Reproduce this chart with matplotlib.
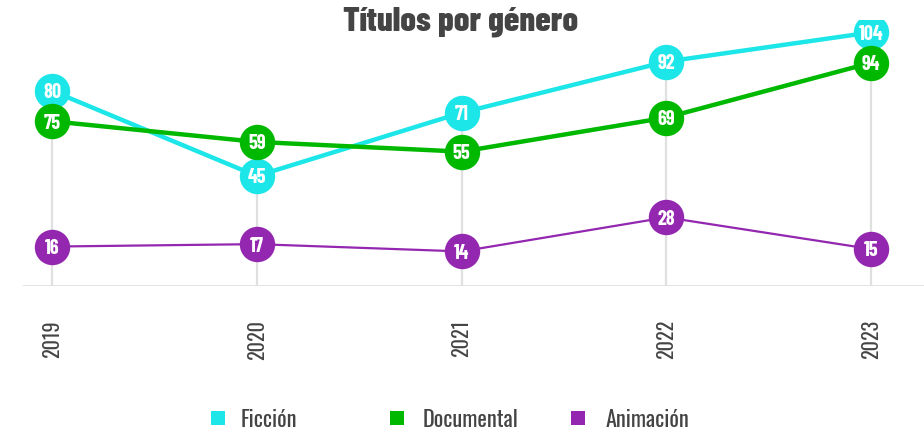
import matplotlib
matplotlib.use('Agg')
import matplotlib.pyplot as plt
from matplotlib.lines import Line2D

# ---- data ----
years = [2019, 2020, 2021, 2022, 2023]
ficcion = [80, 45, 71, 92, 104]
documental = [75, 59, 55, 69, 94]
animacion = [16, 17, 14, 28, 15]

series = [
    ('Ficción', ficcion, '#1de6e9', 3.2),
    ('Documental', documental, '#00b800', 3.2),
    ('Animación', animacion, '#9327b0', 1.6),
]

TEXT = '#444444'
GRID = '#e0e0e0'
LIGHT = ['Oswald', 'DejaVu Sans']
HEAVY = ['Barlow Condensed', 'DejaVu Sans']

# keep circles from sitting on top of each other: push the lower one down
MIN_SEP = 12.5
shown = {name: list(vals) for name, vals, _, _ in series}
for i in range(len(years)):
    order = sorted(shown, key=lambda n: -shown[n][i])
    for a, b in zip(order, order[1:]):
        if shown[a][i] - shown[b][i] < MIN_SEP:
            shown[b][i] = shown[a][i] - MIN_SEP

fig = plt.figure(figsize=(9.24, 4.33), dpi=100)
ax = fig.add_axes([23 / 924, 1 - 285.5 / 433, 1 - 23 / 924, 265.5 / 433])

# vertical guides from the axis up to the top point of each year
tops = [max(shown[n][i] for n in shown) for i in range(len(years))]
ax.vlines(years, 0, tops, color=GRID, linewidth=1.6, zorder=0)
ax.axhline(0, color=GRID, linewidth=2, zorder=0)

for k, (name, vals, color, lw) in enumerate(series):
    ys = shown[name]
    ax.plot(years, ys, color=color, linewidth=lw, marker='o', markersize=25.5,
            markeredgewidth=0, zorder=2 + k, solid_capstyle='round')
    for x, y, v in zip(years, ys, vals):
        ax.text(x, y, str(v), color='white', fontsize=14.5, fontweight='bold',
                family=HEAVY, ha='center', va='center_baseline', zorder=2 + k)

ax.set_xlim(2018.858, 2023.259)
ax.set_ylim(0, 109.1)
ax.set_yticks([])
ax.set_xticks(years)
ax.set_xticklabels([str(y) for y in years], rotation=90, color=TEXT,
                   fontsize=14.5, fontweight='light', family=LIGHT)
ax.tick_params(axis='x', length=0, pad=25)
for s in ax.spines.values():
    s.set_visible(False)

fig.text(461 / 924, 1 - 22 / 433, 'Títulos por género', ha='center', va='center',
         fontsize=25, fontweight='heavy', color=TEXT, family=HEAVY)

# legend: fixed-width items like the original
leg_sq = [218, 397, 578]
leg_tx = [241, 423, 606]
leg_y = 1 - 418 / 433
for (name, _, color, _), sx, tx in zip(series, leg_sq, leg_tx):
    fig.add_artist(Line2D([sx / 924], [leg_y], transform=fig.transFigure,
                          linestyle='none', marker='s', markersize=10.5,
                          markerfacecolor=color, markeredgewidth=0))
    fig.text(tx / 924, leg_y, name, ha='left', va='center_baseline', color=TEXT,
             fontsize=16, fontweight='light', family=LIGHT)

fig.savefig('out.png', dpi=100)
